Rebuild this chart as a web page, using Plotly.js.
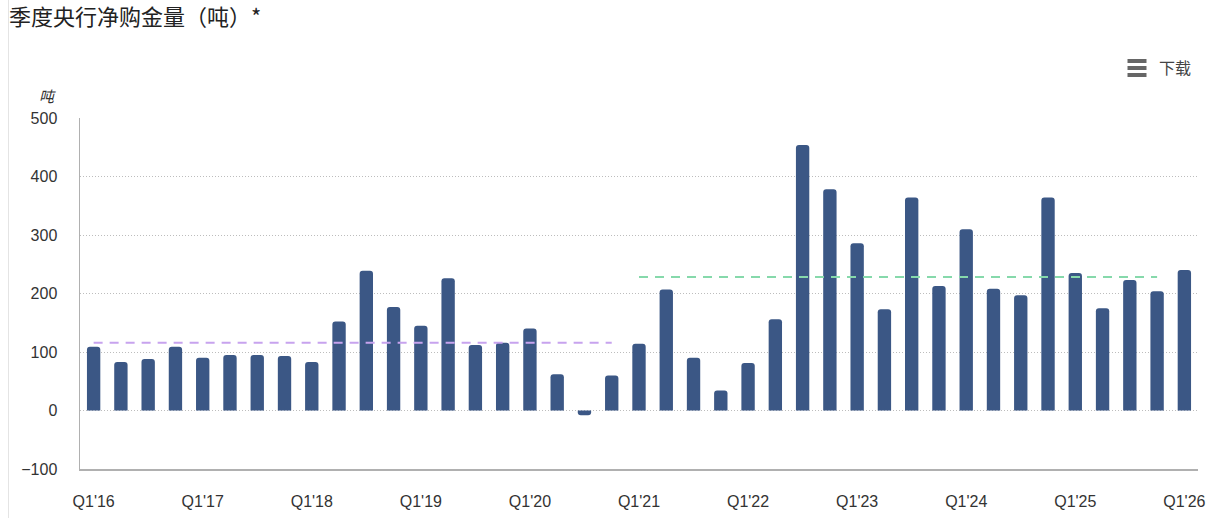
<!DOCTYPE html>
<html>
<head>
<meta charset="utf-8">
<script src="https://cdn.plot.ly/plotly-3.0.1.min.js"></script>
<style>
html,body{margin:0;padding:0;background:#fff;}
#chart{width:1218px;height:518px;position:relative;}
#edge{position:absolute;left:8px;top:0;width:1px;height:518px;background:#e4e4e4;z-index:5;}
</style>
</head>
<body>
<div id="chart"><div id="edge"></div></div>
<script>
const quarters = [
  "Q1'16","Q2'16","Q3'16","Q4'16",
  "Q1'17","Q2'17","Q3'17","Q4'17",
  "Q1'18","Q2'18","Q3'18","Q4'18",
  "Q1'19","Q2'19","Q3'19","Q4'19",
  "Q1'20","Q2'20","Q3'20","Q4'20",
  "Q1'21","Q2'21","Q3'21","Q4'21",
  "Q1'22","Q2'22","Q3'22","Q4'22",
  "Q1'23","Q2'23","Q3'23","Q4'23",
  "Q1'24","Q2'24","Q3'24","Q4'24",
  "Q1'25","Q2'25","Q3'25","Q4'25",
  "Q1'26"
];
const netPurchases = [
  109, 83, 88, 109,
  90, 95, 95, 93,
  83, 152, 239, 177,
  145, 226, 112, 116,
  140, 62, -8, 60,
  114, 207, 90, 34,
  81, 156, 454, 378,
  286, 173, 364, 213,
  310, 208, 197, 364,
  235, 175, 223, 204,
  240
];
const tickQuarters = ["Q1'16","Q1'17","Q1'18","Q1'19","Q1'20","Q1'21","Q1'22","Q1'23","Q1'24","Q1'25","Q1'26"];
const avgPeriod1 = ["Q1'16","Q4'20"];
const avgValue1 = [116, 116];
const avgPeriod2 = ["Q1'21","Q4'25"];
const avgValue2 = [228, 228];
const yTicks = [-100, 0, 100, 200, 300, 400, 500];

const L = 80, R = 1198, T = 118, B = 469;
const px = v => (v - L) / (R - L);
const py = v => (B - v) / (B - T);

const traces = [
  {
    type: 'bar', x: quarters, y: netPurchases,
    marker: {color: '#3b5785', cornerradius: 3},
    hoverinfo: 'x+y', showlegend: false
  },
  {
    type: 'scatter', mode: 'lines', x: avgPeriod1, y: avgValue1,
    line: {color: '#c7a3ee', width: 2, dash: '9px,7px'}, showlegend: false, hoverinfo: 'skip'
  },
  {
    type: 'scatter', mode: 'lines', x: avgPeriod2, y: avgValue2,
    line: {color: '#86d9ab', width: 2, dash: '9px,7px'}, showlegend: false, hoverinfo: 'skip'
  }
];

const hamburger = [61, 68, 75].map(yy => ({
  type: 'line', xref: 'paper', yref: 'paper',
  x0: px(1127.5), x1: px(1146.5), y0: py(yy), y1: py(yy),
  line: {color: '#666', width: 4}
}));

const layout = {
  width: 1218, height: 518,
  margin: {l: L, r: 1218 - R, t: T, b: 518 - B, pad: 0},
  paper_bgcolor: '#fff', plot_bgcolor: '#fff',
  font: {family: '"Liberation Sans", Arial, "Noto Sans CJK SC", sans-serif', color: '#333', size: 16},
  title: {
    text: '季度央行净购金量（吨）*',
    font: {family: '"Noto Sans CJK SC", sans-serif', size: 22, color: '#222'},
    x: 9 / 1218, xanchor: 'left', xref: 'container',
    y: 1 - 17 / 518, yanchor: 'middle', yref: 'container'
  },
  bargap: 0.51,
  xaxis: {
    type: 'category', categoryorder: 'array', categoryarray: quarters,
    tickmode: 'array', tickvals: tickQuarters, ticktext: tickQuarters,
    showgrid: false, zeroline: false,
    showline: true, linecolor: '#b0b0b0', linewidth: 1.5,
    ticks: '', ticklabelstandoff: 17,
    tickfont: {size: 16, color: '#333'},
    range: [-0.5, quarters.length - 0.5], fixedrange: true
  },
  yaxis: {
    range: [-100, 500], tickmode: 'array', tickvals: yTicks,
    showgrid: true, gridcolor: '#bdbdbd', griddash: '1px,2px', gridwidth: 1,
    zeroline: false,
    showline: true, linecolor: '#b0b0b0', linewidth: 1.5,
    ticks: '', ticklabelstandoff: 18,
    tickfont: {size: 16, color: '#333'}, fixedrange: true
  },
  shapes: hamburger,
  annotations: [
    {
      text: '<i>吨</i>', xref: 'paper', yref: 'paper',
      x: px(58), y: py(96), xanchor: 'right', yanchor: 'middle',
      showarrow: false, font: {family: '"Noto Sans CJK SC", sans-serif', size: 15, color: '#333'}
    },
    {
      text: '下载', xref: 'paper', yref: 'paper',
      x: px(1157), y: py(67), xanchor: 'left', yanchor: 'middle',
      showarrow: false, font: {family: '"Noto Sans CJK SC", sans-serif', size: 16, color: '#444'}
    }
  ]
};

Plotly.newPlot('chart', traces, layout, {displayModeBar: false, staticPlot: true});
</script>
</body>
</html>
